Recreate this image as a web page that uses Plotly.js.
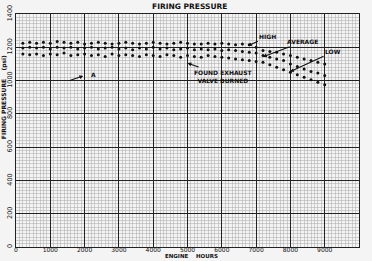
<!DOCTYPE html>
<html>
<head>
<meta charset="utf-8">
<script src="https://cdn.plot.ly/plotly-3.0.1.min.js"></script>
<style>html,body{margin:0;padding:0;background:#f4f4f4;}#chart{width:372px;height:261px;}</style>
</head>
<body>
<div id="chart"></div>
<script>
const hours = [200,400,600,800,1000,1200,1400,1600,1800,2000,2200,2400,2600,2800,3000,3200,3400,3600,3800,4000,4200,4400,4600,4800,5000,5200,5400,5600,5800,6000,6200,6400,6600,6800,7000,7200,7400,7600,7800,8000,8200,8400,8600,8800,9000];
const highPsi = [1225,1230,1225,1230,1225,1235,1230,1225,1230,1220,1225,1230,1225,1220,1225,1230,1225,1220,1225,1230,1225,1220,1225,1230,1225,1220,1220,1225,1220,1225,1220,1215,1220,1215,
                 1200,1180,1175,1170,1160,1150,1140,1130,1120,1110,1100];
const averagePsi = [1195,1200,1195,1200,1190,1200,1195,1200,1190,1195,1200,1190,1195,1200,1190,1195,1185,1195,1190,1200,1190,1195,1185,1190,1195,1185,1190,1185,1190,1180,1185,1180,1175,1170,
                    1165,1150,1140,1130,1120,1100,1085,1070,1055,1045,1030];
const lowPsi = [1160,1155,1160,1150,1160,1155,1165,1150,1155,1160,1150,1155,1145,1160,1150,1155,1150,1145,1155,1150,1145,1155,1150,1140,1150,1145,1140,1150,1145,1140,1135,1130,1125,1120,
                1115,1110,1095,1080,1065,1050,1035,1020,1005,990,975];
const xTickVals = [0,1000,2000,3000,4000,5000,6000,7000,8000,9000];
const yTickVals = [0,200,400,600,800,1000,1200,1400];

const fontFam = '"DejaVu Sans", Arial, sans-serif';
const mk = {color:'#111', size:3};
const traces = [
  {x:hours, y:highPsi, mode:'markers', marker:mk, name:'HIGH', hoverinfo:'skip'},
  {x:hours, y:averagePsi, mode:'markers', marker:mk, name:'AVERAGE', hoverinfo:'skip'},
  {x:hours, y:lowPsi, mode:'markers', marker:mk, name:'LOW', hoverinfo:'skip'}
];
const annFont = {family:fontFam, size:6, color:'#111'};
const arrow = {showarrow:true, arrowhead:2, arrowsize:0.7, arrowwidth:1.1, arrowcolor:'#111'};
const layout = {
  width:372, height:261,
  margin:{l:16, r:13, t:14, b:14},
  paper_bgcolor:'#f4f4f4', plot_bgcolor:'#f4f4f4',
  showlegend:false,
  title:{text:'<b>FIRING PRESSURE</b>', font:{family:fontFam, size:7.5, color:'#111'}, x:0.51, xanchor:'center', y:0.975, yanchor:'middle'},
  xaxis:{range:[0,9999], tickmode:'array', tickvals:xTickVals, showgrid:true, gridcolor:'#222', gridwidth:1,
         zeroline:false, showline:true, mirror:true, linecolor:'#222', linewidth:1, ticks:'', ticklabelstandoff:-3,
         tickfont:{family:fontFam, size:6, color:'#111'},
         minor:{tickmode:'linear', tick0:0, dtick:100, showgrid:true, gridcolor:'#a8a8a8', gridwidth:0.5}},
  yaxis:{range:[0,1400], tickmode:'array', tickvals:yTickVals, showgrid:true, gridcolor:'#222', gridwidth:1,
         zeroline:false, showline:true, mirror:true, linecolor:'#222', linewidth:1, ticks:'', tickangle:-90,
         tickfont:{family:fontFam, size:6.5, color:'#111'},
         minor:{tickmode:'linear', tick0:0, dtick:20, showgrid:true, gridcolor:'#a8a8a8', gridwidth:0.5}},
  annotations:[
    {xref:'paper', yref:'paper', x:0.513, y:-0.055, text:'<b>ENGINE&nbsp;&nbsp;&nbsp;&nbsp;HOURS</b>', showarrow:false, font:{family:fontFam, size:5.5, color:'#111'}, xanchor:'center', yanchor:'bottom', borderpad:0},
    {xref:'paper', yref:'paper', x:-0.036, y:0.59, text:'<b>FIRING&nbsp;PRESSURE</b>', textangle:-90, showarrow:false, font:{family:fontFam, size:6, color:'#111'}, xanchor:'center', yanchor:'middle'},
    {xref:'paper', yref:'paper', x:-0.036, y:0.79, text:'<b>(psi)</b>', textangle:-90, showarrow:false, font:{family:fontFam, size:6, color:'#111'}, xanchor:'center', yanchor:'middle'},
    {x:2130, y:1035, text:'<b>A</b>', showarrow:false, font:annFont, xanchor:'left', yanchor:'middle'},
    Object.assign({x:1960, y:1028, text:'', ax:-15, ay:5, font:annFont}, arrow),
    Object.assign({x:5000, y:1105, text:'<b>FOUND EXHAUST<br>VALVE BURNED</b>', ax:36, ay:13, font:annFont, align:'center'}, arrow),
    Object.assign({x:6760, y:1209, text:'<b>HIGH</b>', ax:20, ay:-9, font:annFont}, arrow),
    Object.assign({x:7200, y:1143, text:'<b>AVERAGE</b>', ax:40, ay:-15, font:annFont}, arrow),
    Object.assign({x:7990, y:1053, text:'<b>LOW</b>', ax:43, ay:-20, font:annFont}, arrow)
  ]
};
Plotly.newPlot('chart', traces, layout, {displayModeBar:false, staticPlot:true});
</script>
</body>
</html>
